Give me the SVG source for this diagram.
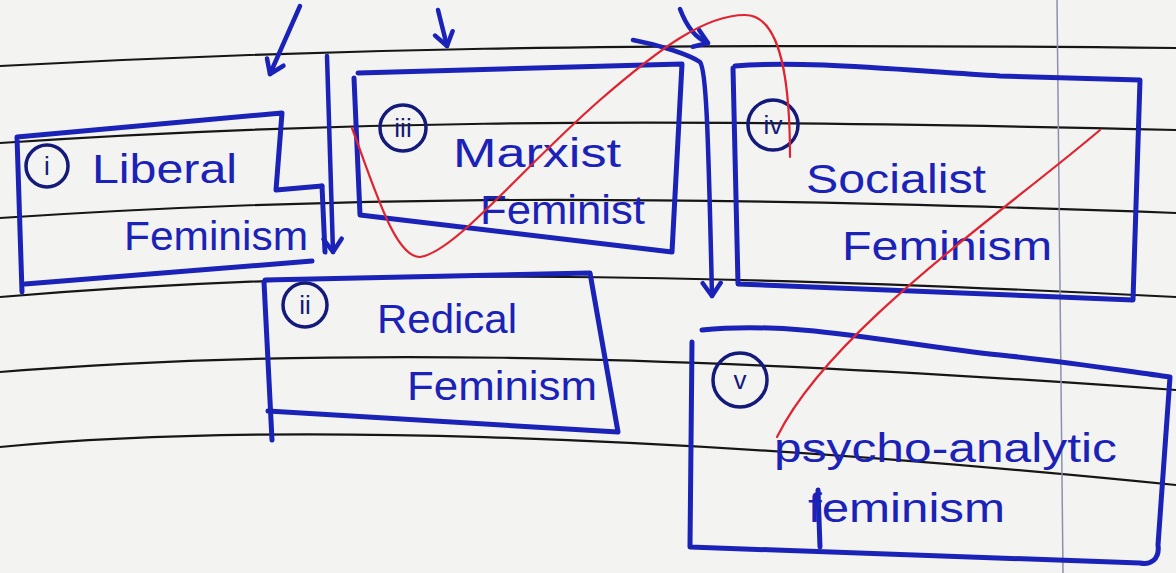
<svg xmlns="http://www.w3.org/2000/svg" width="1176" height="573" viewBox="0 0 1176 573">
<defs>
<style>
.rule{fill:none;stroke:#161616;stroke-width:2.2}
.margin{fill:none;stroke:#8c90ad;stroke-width:1.5}
.box{fill:none;stroke:#1b22b8;stroke-width:5;stroke-linejoin:round;stroke-linecap:round}
.ring{fill:none;stroke:#141a7a;stroke-width:3.5}
.num{font-family:"Liberation Sans",sans-serif;font-size:26px;fill:#141a7a;text-anchor:middle}
.lbl{font-family:"Liberation Sans",sans-serif;font-size:40px;fill:#1b22b8}
.arr{fill:none;stroke:#1b22b8;stroke-width:4.5;stroke-linecap:round;stroke-linejoin:round}
.red{fill:none;stroke:#e0232f;stroke-width:2.2;stroke-linecap:round}
</style>
<marker id="head" viewBox="-16 -12 20 24" markerWidth="20" markerHeight="24" refX="0" refY="0" orient="auto" markerUnits="userSpaceOnUse">
<path d="M-13,-9 L0,0 L-13,9" fill="none" stroke="#1b22b8" stroke-width="4.5" stroke-linecap="round" stroke-linejoin="round"/>
</marker>
</defs>
<rect width="1176" height="573" fill="#f3f3f1"/>
<g id="paper">
<path class="rule" d="M0,66 C300,50 600,42 1176,48"/>
<path class="rule" d="M0,143 C300,123 600,116 1176,130"/>
<path class="rule" d="M0,218 C300,198 600,192 1176,213"/>
<path class="rule" d="M0,297 C300,272 600,268 1176,297"/>
<path class="rule" d="M0,372 C300,348 650,352 1176,390"/>
<path class="rule" d="M0,447 C250,423 650,432 1176,485"/>
<path class="margin" d="M1057,0 L1063,573"/>
</g>
<g id="node-liberal">
<path class="box" d="M322,186 L276,190 L282,113 L17,137 L22,292"/>
<path class="box" d="M322,186 L325,252"/>
<path class="box" d="M25,284 L312,261"/>
<circle class="ring" cx="47" cy="166" r="21"/>
<text class="num" x="47" y="175">i</text>
<text class="lbl" x="92" y="183" textLength="145" lengthAdjust="spacingAndGlyphs">Liberal</text>
<text class="lbl" x="124" y="250" textLength="184" lengthAdjust="spacingAndGlyphs">Feminism</text>
</g>
<g id="node-marxist">
<path class="box" d="M358,73 L682,64 L672,252 L360,215 L354,78"/>
<circle class="ring" cx="403" cy="128" r="23"/>
<text class="num" x="403" y="137">iii</text>
<text class="lbl" x="453" y="167" textLength="168" lengthAdjust="spacingAndGlyphs">Marxist</text>
<text class="lbl" x="480" y="224" textLength="165" lengthAdjust="spacingAndGlyphs">Feminist</text>
</g>
<g id="node-socialist">
<path class="box" d="M735,66 C800,60 900,70 1000,76 L1140,80 L1133,300 L738,284 L733,68"/>
<circle class="ring" cx="773" cy="125" r="25"/>
<text class="num" x="773" y="134">iv</text>
<text class="lbl" x="806" y="193" textLength="180" lengthAdjust="spacingAndGlyphs">Socialist</text>
<text class="lbl" x="842" y="260" textLength="210" lengthAdjust="spacingAndGlyphs">Feminism</text>
</g>
<g id="node-radical">
<path class="box" d="M265,280 L590,273 L618,432 L268,411"/>
<path class="box" d="M264,282 L272,440"/>
<circle class="ring" cx="305" cy="305" r="22"/>
<text class="num" x="305" y="314">ii</text>
<text class="lbl" x="377" y="333" textLength="140" lengthAdjust="spacingAndGlyphs">Redical</text>
<text class="lbl" x="407" y="400" textLength="190" lengthAdjust="spacingAndGlyphs">Feminism</text>
</g>
<g id="node-psycho">
<path class="box" d="M702,330 C800,320 900,345 1000,355 C1080,363 1130,372 1170,377 L1158,545 C1160,560 1150,565 1140,563 L690,547 L692,342"/>
<path class="box" d="M818,490 L820,547"/>
<circle class="ring" cx="740" cy="380" r="27"/>
<text class="num" x="740" y="389">v</text>
<text class="lbl" x="774" y="462" textLength="343" lengthAdjust="spacingAndGlyphs">psycho-analytic</text>
<text class="lbl" x="808" y="522" textLength="197" lengthAdjust="spacingAndGlyphs">feminism</text>
</g>
<g id="connectors">
<path class="arr" d="M300,6 L270,74" marker-end="url(#head)"/>
<path class="arr" d="M438,10 L447,46" marker-end="url(#head)"/>
<path class="arr" d="M327,56 L333,252" marker-end="url(#head)"/>
<path class="arr" d="M680,9 C686,25 695,38 708,43" marker-end="url(#head)"/>
<path class="arr" d="M633,40 C660,45 690,55 700,62 C706,70 708,120 712,296" marker-end="url(#head)"/>
</g>
<g id="annotations">
<path class="red" d="M352,128 C375,190 395,257 420,257 C455,252 520,170 600,100 C660,48 705,15 745,15 C775,15 790,60 790,157"/>
<path class="red" d="M1100,130 C1000,215 830,330 777,437"/>
</g>
</svg>
